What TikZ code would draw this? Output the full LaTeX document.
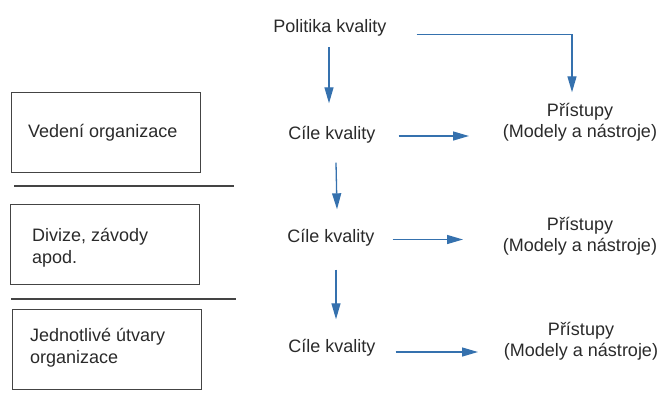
\documentclass[tikz,border=0pt]{standalone}
\usepackage{fontspec}
\setmainfont{Liberation Sans}
\usetikzlibrary{arrows.meta}
\definecolor{arrblue}{HTML}{3571AE}
\definecolor{txt}{HTML}{2A2A2A}
\definecolor{boxline}{HTML}{444444}
\tikzset{
  lbl/.style={inner sep=0pt, text height=13pt, text depth=4pt, text=txt, font=\fontsize{18}{21}\selectfont},
  plbl/.style={inner sep=0pt, align=center, text=txt, font=\fontsize{18}{21}\selectfont},
  blbl/.style={inner sep=0pt, align=left, anchor=west, text=txt, font=\fontsize{18}{22}\selectfont},
  lvlbox/.style={draw=boxline, line width=1pt, minimum width=189pt, minimum height=80pt, inner sep=0pt},
  sep/.style={draw=boxline, line width=1.4pt},
  arr/.style={draw=arrblue, line width=1.3pt, -{Triangle[length=16pt,width=9pt]}}
}
\begin{document}
\begin{tikzpicture}[x=1pt,y=-1pt]
\useasboundingbox (0,0) rectangle (664,392);
% texts
\node[lbl, anchor=base] (pol) at (330,32) {Politika kvality};
\node[lbl, anchor=base] (c1) at (332,139.5) {Cíle kvality};
\node[lbl, anchor=base] (c2) at (331,242.5) {Cíle kvality};
\node[lbl, anchor=base] (c3) at (332,352.5) {Cíle kvality};
\node[plbl] (p1) at (580,122.5) {Přístupy\\(Modely a nástroje)};
\node[plbl] (p2) at (580,236.5) {Přístupy\\(Modely a nástroje)};
\node[plbl] (p3) at (581,341) {Přístupy\\(Modely a nástroje)};
% left boxes
\node[lvlbox] (b1) at (106,132) {};
\node[lvlbox] (b2) at (105,244) {};
\node[lvlbox] (b3) at (106.5,349) {};
\node[blbl] (t1) at (28,133) {Vedení organizace};
\node[blbl] (t2) at (32,248) {Divize, závody\\apod.};
\node[blbl] (t3) at (30,347.5) {Jednotlivé útvary\\organizace};
% separators
\draw[sep] (14,186) -- (234,186);
\draw[sep] (11,299) -- (236,299);
% arrows
\draw[arr] ([xshift=-1pt,yshift=-11pt]pol.south) -- ([xshift=-3pt,yshift=23pt]c1.north);
\draw[arr] ([xshift=30pt,yshift=-7pt]pol.east) -| ([xshift=-8pt,yshift=11pt]p1.north);
\draw[arr] ([xshift=4pt,yshift=-19pt]c1.south) -- ([xshift=6pt,yshift=20pt]c2.north);
\draw[arr] ([xshift=5pt,yshift=-23pt]c2.south) -- ([xshift=4pt,yshift=20pt]c3.north);
\draw[arr] ([xshift=23pt,yshift=-1pt]c1.east) -- ([yshift=-1pt]c1.east -| {(469,0)});
\draw[arr] ([xshift=18pt,yshift=-1.5pt]c2.east) -- ([yshift=-1.5pt]c2.east -| {(463,0)});
\draw[arr] ([xshift=20pt,yshift=-4pt]c3.east) -- ([yshift=-4pt]c3.east -| {(478,0)});
\end{tikzpicture}
\end{document}
